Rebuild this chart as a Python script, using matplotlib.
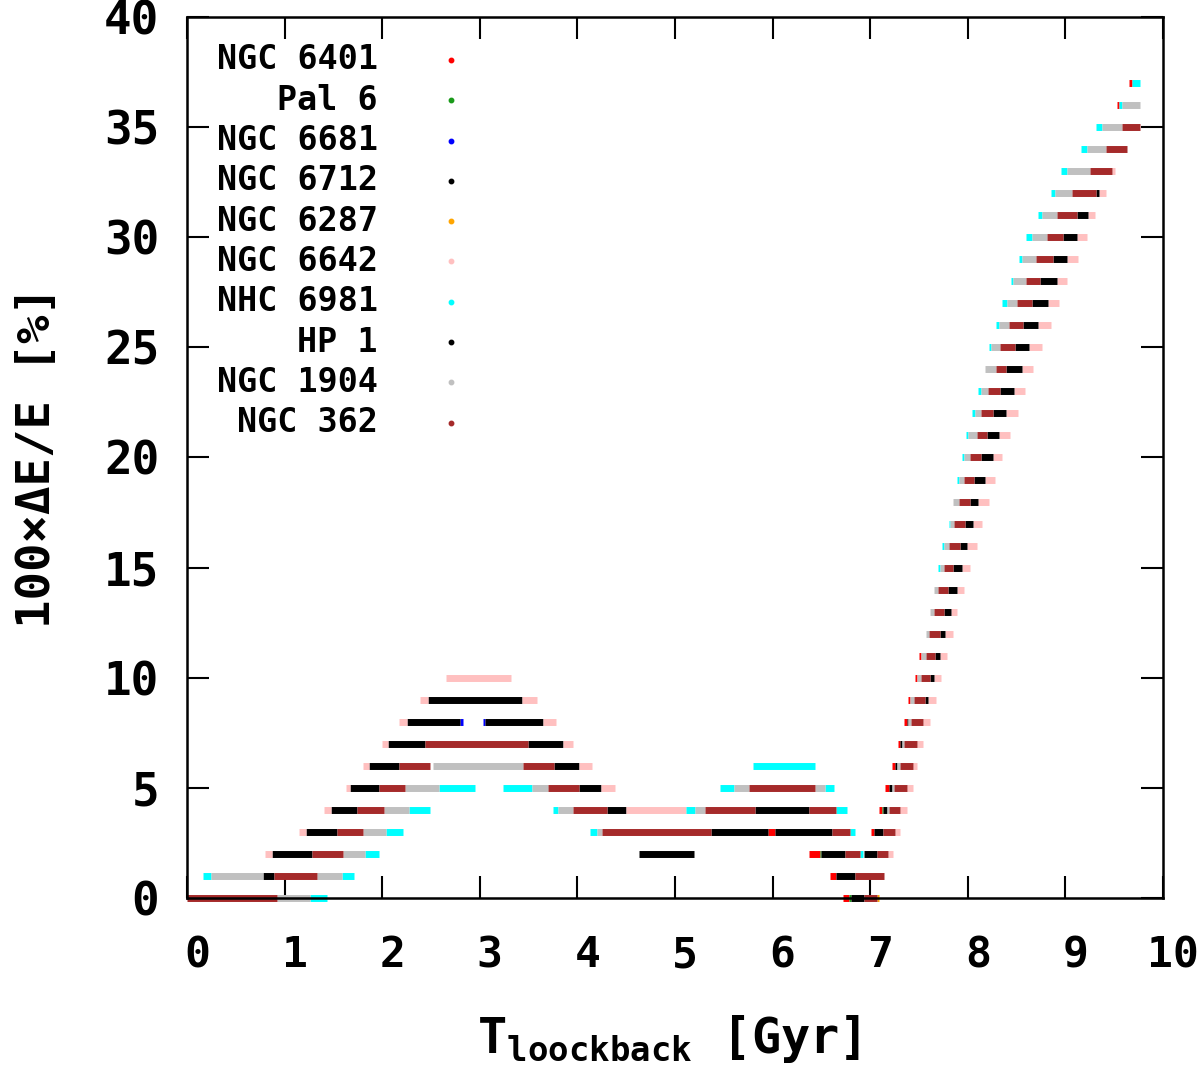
import matplotlib
matplotlib.use("Agg")
import matplotlib.pyplot as plt
import matplotlib.transforms as mtransforms

plt.rcParams['font.family'] = ['DejaVu Sans Mono', 'DejaVu Sans']
plt.rcParams['font.weight'] = 'bold'
plt.rcParams['axes.labelweight'] = 'bold'
plt.rcParams['mathtext.fontset'] = 'custom'
plt.rcParams['mathtext.rm'] = 'DejaVu Sans Mono:bold'
plt.rcParams['mathtext.it'] = 'DejaVu Sans Mono:bold'
plt.rcParams['mathtext.bf'] = 'DejaVu Sans Mono:bold'

# segments (energy-error level, t_start, t_end) per cluster
ngc6401 = [(3, 5.956, 6.025), (0, 6.724, 6.786), (1, 6.588, 6.65), (2, 6.376, 6.486),
           (3, 7.008, 7.043), (4, 7.090, 7.118), (5, 7.152, 7.196), (6, 7.220, 7.254),
           (7, 7.288, 7.305), (8, 7.346, 7.374), (9, 7.391, 7.408), (10, 7.459, 7.476),
           (11, 7.503, 7.517), (36, 9.525, 9.552), (37, 9.655, 9.679)]

pal6 = [(0, 6.786, 6.80), (2, 6.486, 6.496), (4, 7.118, 7.135)]

ngc6681 = [(8, 2.797, 2.825), (8, 3.036, 3.057)]

ngc6712 = [(1, 0.776, 0.891), (2, 0.868, 1.278), (3, 1.216, 1.540), (4, 1.475, 1.745),
           (5, 1.670, 1.970), (5, 4.020, 4.239), (6, 1.865, 2.175), (6, 3.76, 4.02),
           (7, 2.063, 2.439), (7, 3.497, 3.849), (8, 2.257, 2.797), (8, 3.057, 3.644),
           (9, 2.472, 3.429), (2, 4.631, 5.195), (3, 5.369, 5.956), (3, 6.025, 6.612),
           (4, 4.30, 4.498), (4, 5.82, 6.376)]

ngc6287 = [(0, 7.073, 7.09)]

ngc6642 = [(2, 0.799, 0.868), (3, 1.148, 1.216), (4, 1.407, 1.475), (5, 1.629, 1.670),
           (5, 4.239, 4.385), (6, 1.803, 1.865), (6, 4.02, 4.147), (7, 1.995, 2.063),
           (7, 3.849, 3.952), (8, 2.172, 2.257), (8, 3.644, 3.781), (9, 2.387, 2.472),
           (9, 3.429, 3.583), (10, 2.65, 3.32), (4, 4.498, 5.11),
           (2, 7.185, 7.237), (3, 7.254, 7.305), (4, 7.305, 7.374), (5, 7.374, 7.435),
           (6, 7.435, 7.483), (7, 7.476, 7.544), (8, 7.544, 7.613), (9, 7.596, 7.674),
           (10, 7.657, 7.722), (11, 7.715, 7.784), (12, 7.766, 7.852), (13, 7.824, 7.892),
           (14, 7.886, 7.961), (15, 7.937, 8.023), (16, 7.995, 8.091), (17, 8.057, 8.149),
           (18, 8.108, 8.217), (19, 8.176, 8.282), (20, 8.255, 8.347), (21, 8.323, 8.432),
           (22, 8.391, 8.518), (23, 8.473, 8.586), (24, 8.552, 8.671), (25, 8.630, 8.760),
           (26, 8.716, 8.849), (27, 8.825, 8.934), (28, 8.911, 9.019), (29, 9.019, 9.132),
           (30, 9.122, 9.218), (31, 9.235, 9.303), (32, 9.348, 9.416), (33, 9.481, 9.508)]

nhc6981 = [(0, 1.26, 1.437), (1, 0.167, 0.243), (1, 1.585, 1.711), (2, 1.824, 1.970),
           (3, 2.039, 2.21), (4, 2.278, 2.49), (5, 2.585, 2.951), (5, 3.235, 3.532),
           (3, 4.129, 4.204), (3, 6.793, 6.844), (4, 3.747, 3.804), (4, 5.11, 5.205),
           (4, 6.65, 6.76), (5, 5.461, 5.604), (5, 6.537, 6.629), (6, 5.802, 6.434),
           (2, 6.895, 6.93), (15, 7.698, 7.71), (16, 7.739, 7.76), (17, 7.807, 7.82),
           (19, 7.892, 7.91), (20, 7.937, 7.961), (21, 7.982, 8.005), (22, 8.043, 8.074),
           (23, 8.108, 8.132), (25, 8.220, 8.238), (26, 8.289, 8.323), (27, 8.354, 8.399),
           (28, 8.439, 8.466), (29, 8.528, 8.559), (30, 8.596, 8.655), (31, 8.722, 8.757),
           (32, 8.849, 8.893), (33, 8.958, 9.013), (34, 9.157, 9.225), (35, 9.310, 9.372),
           (36, 9.552, 9.577), (37, 9.679, 9.764)]

hp1 = [(0, 6.80, 6.936), (1, 6.65, 6.844), (2, 6.496, 6.742), (2, 6.936, 7.066),
       (3, 7.043, 7.135), (4, 7.135, 7.176), (5, 7.196, 7.220), (6, 7.254, 7.278),
       (7, 7.305, 7.323), (8, 7.374, 7.39), (9, 7.561, 7.596), (10, 7.613, 7.657),
       (11, 7.664, 7.715), (12, 7.715, 7.766), (13, 7.756, 7.824), (14, 7.80, 7.886),
       (15, 7.852, 7.937), (16, 7.920, 7.995), (17, 7.971, 8.057), (18, 8.023, 8.108),
       (19, 8.063, 8.176), (20, 8.132, 8.255), (21, 8.194, 8.323), (22, 8.261, 8.391),
       (23, 8.330, 8.473), (24, 8.391, 8.552), (25, 8.484, 8.630), (26, 8.563, 8.716),
       (27, 8.655, 8.825), (28, 8.740, 8.911), (29, 8.870, 9.019), (30, 8.978, 9.122),
       (31, 9.122, 9.235), (32, 9.314, 9.348)]

ngc1904 = [(0, 0.925, 1.26), (1, 0.243, 0.776), (1, 1.335, 1.585), (2, 1.601, 1.824),
           (3, 1.80, 2.039), (4, 2.018, 2.278), (5, 2.234, 2.585), (5, 3.532, 3.702),
           (6, 2.524, 3.44), (3, 4.204, 4.249), (4, 3.804, 3.958), (4, 5.205, 5.307),
           (5, 5.604, 5.761), (5, 6.434, 6.537),
           (4, 7.176, 7.196), (5, 7.220, 7.244), (6, 7.278, 7.305), (7, 7.323, 7.346),
           (8, 7.39, 7.415), (9, 7.408, 7.449), (10, 7.476, 7.517), (11, 7.517, 7.572),
           (12, 7.572, 7.606), (13, 7.613, 7.654), (14, 7.654, 7.698), (15, 7.71, 7.759),
           (16, 7.76, 7.807), (17, 7.82, 7.859), (18, 7.852, 7.913), (19, 7.91, 7.961),
           (20, 7.961, 8.023), (21, 8.005, 8.091), (22, 8.074, 8.132), (23, 8.132, 8.210),
           (24, 8.176, 8.286), (25, 8.238, 8.330), (26, 8.323, 8.425), (27, 8.399, 8.507),
           (28, 8.466, 8.596), (29, 8.559, 8.699), (30, 8.655, 8.814), (31, 8.757, 8.917),
           (32, 8.893, 9.064), (33, 9.013, 9.252), (34, 9.225, 9.416), (35, 9.372, 9.583),
           (36, 9.577, 9.764)]

ngc362 = [(0, 0.0, 0.925), (1, 0.891, 1.335), (2, 1.278, 1.601), (3, 1.540, 1.80),
          (4, 1.745, 2.018), (5, 1.970, 2.234), (5, 3.702, 4.020), (6, 2.175, 2.49),
          (6, 3.44, 3.76), (7, 2.439, 3.497),
          (3, 4.249, 5.369), (3, 6.612, 6.793), (4, 3.958, 4.30), (4, 5.307, 5.82),
          (4, 6.376, 6.65), (5, 5.761, 6.434),
          (0, 6.936, 7.073), (1, 6.844, 7.141), (2, 6.742, 6.895), (2, 7.066, 7.185),
          (3, 7.135, 7.254), (4, 7.196, 7.305), (5, 7.244, 7.374), (6, 7.305, 7.435),
          (7, 7.346, 7.476), (8, 7.415, 7.544), (9, 7.449, 7.561), (10, 7.517, 7.613),
          (11, 7.572, 7.664), (12, 7.606, 7.715), (13, 7.654, 7.756), (14, 7.698, 7.80),
          (15, 7.759, 7.852), (16, 7.807, 7.920), (17, 7.859, 7.971), (18, 7.913, 8.023),
          (19, 7.961, 8.063), (20, 8.023, 8.132), (21, 8.091, 8.194), (22, 8.132, 8.261),
          (23, 8.210, 8.330), (24, 8.286, 8.391), (25, 8.330, 8.484), (26, 8.425, 8.563),
          (27, 8.507, 8.655), (28, 8.596, 8.740), (29, 8.699, 8.870), (30, 8.814, 8.978),
          (31, 8.917, 9.122), (32, 9.064, 9.314), (33, 9.252, 9.481), (34, 9.416, 9.634),
          (35, 9.583, 9.764)]

names = ["NGC 6401", "Pal 6", "NGC 6681", "NGC 6712", "NGC 6287",
         "NGC 6642", "NHC 6981", "HP 1", "NGC 1904", "NGC 362"]
colors = ["#ff0000", "#1a9a1a", "#0000ff", "#000000", "#ffa500",
          "#ffc0c0", "#00ffff", "#000000", "#c0c0c0", "#a52a2a"]
series = [ngc6401, pal6, ngc6681, ngc6712, ngc6287,
          ngc6642, nhc6981, hp1, ngc1904, ngc362]

fig = plt.figure(figsize=(12, 10.67), dpi=100)
ax = fig.add_axes([0.1558, 0.1584, 0.8134, 0.8257])

for seg, c in zip(series, colors):
    ys = [s[0] for s in seg]
    x0 = [s[1] for s in seg]
    x1 = [s[2] for s in seg]
    ax.hlines(ys, x0, x1, colors=c, linewidth=5.0, capstyle='butt', clip_on=False)

ax.set_xlim(0, 10)
ax.set_ylim(0, 40)
ax.set_xticks(range(0, 11))
ax.set_yticks(range(0, 41, 5))
ax.tick_params(direction='in', length=16, width=1.5, top=True, right=True,
               labelsize=33)
ax.tick_params(axis='x', pad=26, labelsize=31)
ax.tick_params(axis='y', pad=20)
for sp in ax.spines.values():
    sp.set_linewidth(1.8)

shift = mtransforms.ScaledTranslation(0.10, 0, fig.dpi_scale_trans)
for lbl in ax.get_xticklabels():
    lbl.set_transform(lbl.get_transform() + shift)

ax.set_ylabel("100×ΔE/E [%]", fontsize=34)
ax.yaxis.set_label_coords(-0.13, 0.5)
ax.set_xlabel(r"$\mathrm{T}_{\mathrm{loockback}}$ [Gyr]", fontsize=35)
ax.xaxis.set_label_coords(0.493, -0.13)

# key, gnuplot style: right-aligned names, dot after
for i, (name, c) in enumerate(zip(names, colors)):
    ypix = 60 + 40.3 * i
    yf = (898 - ypix) / 881
    ax.text(0.1957, yf, name, transform=ax.transAxes, ha='right', va='center',
            fontsize=24)
    ax.plot([0.2705], [yf], marker='o', markersize=3.2, color=c,
            linestyle='none', transform=ax.transAxes)

fig.savefig("out.png", dpi=100)
